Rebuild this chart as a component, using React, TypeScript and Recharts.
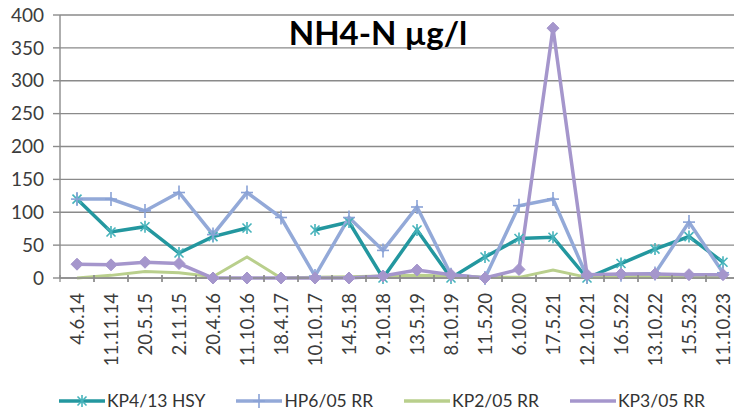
import React from 'react';
import { LineChart, Line, XAxis, YAxis, CartesianGrid, Legend } from 'recharts';

const categories = ["4.6.14","11.11.14","20.5.15","2.11.15","20.4.16","11.10.16","18.4.17","10.10.17","14.5.18","9.10.18","13.5.19","8.10.19","11.5.20","6.10.20","17.5.21","12.10.21","16.5.22","13.10.22","15.5.23","11.10.23"];
const kp4 = [120,70,78,38,63,76,null,73,85,0,73,0,32,60,62,0,22,44,63,24];
const hp6 = [120,120,102,130,66,130,92,3,92,42,108,5,0,110,120,2,5,7,85,8];
const kp2 = [0,4,10,8,2,32,0,1,2,3,4,3,1,1,12,1,2,2,2,2];
const kp3 = [21,20,24,22,0,0,0,0,0,3,12,5,0,13,380,5,6,6,5,5];
const yTicks = [0,50,100,150,200,250,300,350,400];

const seriesKeys = ["kp4","hp6","kp2","kp3"];
const seriesNames = ["KP4/13 HSY","HP6/05 RR","KP2/05 RR","KP3/05 RR"];
const colors = ["#23979f","#93a9d8","#b9cf8c","#a596cc"];

const data = categories.map((c, i) => ({
  date: c,
  kp4: kp4[i],
  hp6: hp6[i],
  kp2: kp2[i],
  kp3: kp3[i],
}));

const FONT = 'Lato, "Open Sans", sans-serif';

const Star = (props: any) => {
  const { cx, cy } = props;
  if (cx == null || cy == null || props.value == null) return null;
  const r = 6;
  const d = r * 0.75;
  return (
    <g stroke="#46b3bb" strokeWidth={1.6}>
      <line x1={cx} y1={cy - r} x2={cx} y2={cy + r} />
      <line x1={cx - d} y1={cy - d} x2={cx + d} y2={cy + d} />
      <line x1={cx - d} y1={cy + d} x2={cx + d} y2={cy - d} />
    </g>
  );
};

const Plus = (props: any) => {
  const { cx, cy } = props;
  if (cx == null || cy == null || props.value == null) return null;
  return (
    <g stroke="#8aa2d6" strokeWidth={1.6}>
      <line x1={cx} y1={cy - 7} x2={cx} y2={cy + 7} />
      <line x1={cx - 6} y1={cy} x2={cx + 6} y2={cy} />
    </g>
  );
};

const Diamond = (props: any) => {
  const { cx, cy } = props;
  if (cx == null || cy == null || props.value == null) return null;
  const r = 6;
  return <path d={`M${cx},${cy - r}L${cx + r},${cy}L${cx},${cy + r}L${cx - r},${cy}Z`} fill="#a596cc" stroke="#a596cc" />;
};

const XTick = (props: any) => {
  const { x, y, payload } = props;
  return (
    <g>
      <line x1={x - 17} x2={x - 17} y1={y - 3} y2={y + 4} stroke="#8c8c8c" strokeWidth={1.3} />
      <line x1={x + 17} x2={x + 17} y1={y - 3} y2={y + 4} stroke="#8c8c8c" strokeWidth={1.3} />
      <text
        x={0}
        y={0}
        transform={`translate(${x + 6.5},${y + 15}) rotate(-90)`}
        textAnchor="end"
        fill="#3c3c3c"
        fontSize={18.5}
        fontFamily={FONT}
      >
        {payload.value}
      </text>
    </g>
  );
};

const LegendIcon = ({ idx }: { idx: number }) => {
  const c = colors[idx];
  return (
    <svg width={46} height={16} style={{ display: 'block', flexShrink: 0 }}>
      <line x1={0} y1={8} x2={46} y2={8} stroke={c} strokeWidth={3.5} />
      {idx === 0 && <Star cx={23} cy={8} value={1} />}
      {idx === 1 && <Plus cx={23} cy={8} value={1} />}
    </svg>
  );
};

const renderLegend = (props: any) => {
  const payload = [...(props.payload || [])].sort(
    (a: any, b: any) => seriesKeys.indexOf(a.dataKey) - seriesKeys.indexOf(b.dataKey)
  );
  return (
    <div style={{ display: 'flex', alignItems: 'center', paddingLeft: 59, fontFamily: FONT, fontSize: 17.5, color: '#333', whiteSpace: 'nowrap' }}>
      {payload.map((entry: any, i: number) => {
        const idx = seriesKeys.indexOf(entry.dataKey);
        return (
          <div key={i} style={{ display: 'flex', alignItems: 'center', marginRight: 31, flexShrink: 0 }}>
            <LegendIcon idx={idx} />
            <span style={{ marginLeft: 2 }}>{entry.value}</span>
          </div>
        );
      })}
    </div>
  );
};

export default function App() {
  return (
    <div style={{ position: 'absolute', left: 0, top: 0, width: 734, height: 414, overflow: 'hidden', background: '#fff' }}>
      <LineChart
        width={740}
        height={414}
        data={data}
        margin={{ top: 15, right: 0, bottom: 56, left: 0 }}
      >
        <CartesianGrid vertical={false} stroke="#8a8a8a" strokeWidth={1.4} />
        <XAxis
          dataKey="date"
          interval={0}
          height={80}
          padding={{ left: 17, right: 17 }}
          tick={<XTick />}
          tickLine={false}
          tickSize={0}
          tickMargin={0}
          axisLine={{ stroke: '#8c8c8c', strokeWidth: 1.4 }}
        />
        <YAxis
          domain={[0, 400]}
          ticks={yTicks}
          width={60}
          tickSize={7}
          tickMargin={9}
          tickLine={{ stroke: '#8c8c8c', strokeWidth: 1.4 }}
          axisLine={{ stroke: '#8c8c8c', strokeWidth: 1.4 }}
          tick={{ fill: '#3c3c3c', fontSize: 19, fontFamily: FONT }}
        />
        <Legend verticalAlign="middle" align="center" wrapperStyle={{ top: 390, left: 0, width: 734 }} content={renderLegend} />
        <Line dataKey="kp4" name={seriesNames[0]} stroke={colors[0]} strokeWidth={3.5} dot={<Star />} isAnimationActive={false} connectNulls={false} />
        <Line dataKey="hp6" name={seriesNames[1]} stroke={colors[1]} strokeWidth={3.5} dot={<Plus />} isAnimationActive={false} />
        <Line dataKey="kp2" name={seriesNames[2]} stroke={colors[2]} strokeWidth={3} dot={false} isAnimationActive={false} />
        <Line dataKey="kp3" name={seriesNames[3]} stroke={colors[3]} strokeWidth={3.5} dot={<Diamond />} isAnimationActive={false} />
      </LineChart>
      <div style={{ position: 'absolute', left: 0, width: 756, top: 14, textAlign: 'center', fontFamily: FONT, fontWeight: 700, fontSize: 33, color: '#000', lineHeight: '36px' }}>
        NH4-N µg/l
      </div>
    </div>
  );
}
